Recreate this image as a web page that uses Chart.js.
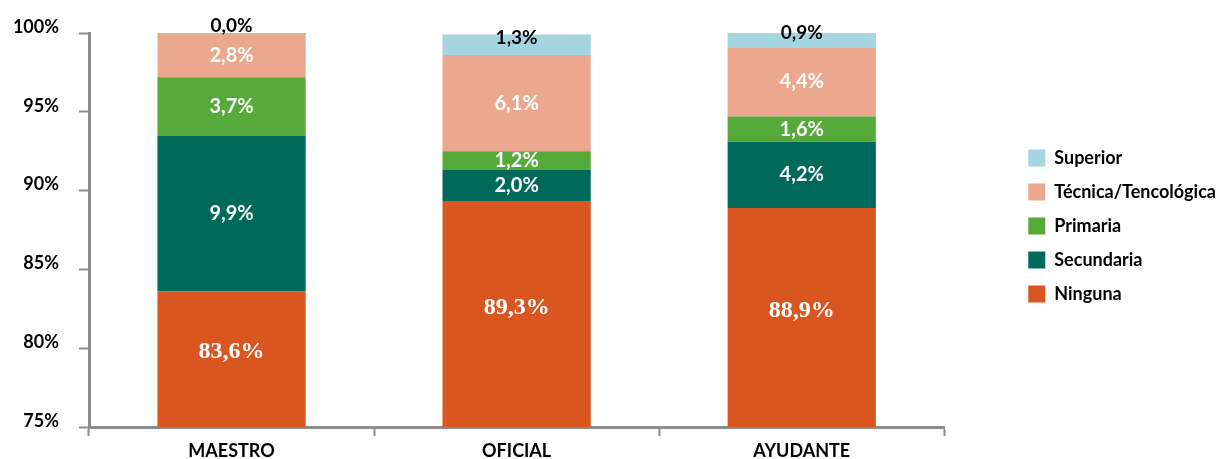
<!DOCTYPE html>
<html>
<head>
<meta charset="utf-8">
<script src="https://cdn.jsdelivr.net/npm/chart.js@4"></script>
<style>
  html, body { margin: 0; padding: 0; background: #fff; }
  #wrap { width: 1218px; height: 459px; }
</style>
</head>
<body>
<div id="wrap"><canvas id="nivelChart"></canvas></div>
<script>
const categories = ['MAESTRO', 'OFICIAL', 'AYUDANTE'];
const ninguna = [83.6, 89.3, 88.9];
const secundaria = [9.9, 2.0, 4.2];
const primaria = [3.7, 1.2, 1.6];
const tecnica = [2.8, 6.1, 4.4];
const superior = [0.0, 1.3, 0.9];
const yTicks = [75, 80, 85, 90, 95, 100];

const sansFont = 'Lato, "Open Sans", sans-serif';

// etiquetas dentro de cada segmento
const segmentLabels = {
    id: 'segmentLabels',
    afterDatasetsDraw(chart) {
        const ctx = chart.ctx;
        const area = chart.chartArea;
        chart.data.datasets.forEach((ds, i) => {
            const meta = chart.getDatasetMeta(i);
            meta.data.forEach((bar, j) => {
                const txt = ds.data[j].toFixed(1).replace('.', ',') + '%';
                const top = Math.max(bar.y, area.top);
                const bottom = Math.min(bar.base, area.bottom);
                const y = (top + bottom) / 2 + (ds.labelShift || 0);
                ctx.save();
                ctx.fillStyle = ds.labelColor;
                ctx.font = ds.labelFont;
                ctx.textAlign = 'center';
                ctx.textBaseline = 'middle';
                ctx.fillText(txt, bar.x, y);
                ctx.restore();
            });
        });
    }
};

// separa la leyenda del area del grafico
const legendShift = {
    id: 'legendShift',
    beforeInit(chart) {
        const fit = chart.legend.fit;
        chart.legend.fit = function () {
            fit.call(this);
            this.width += 60;
        };
    },
    afterLayout(chart) {
        const lg = chart.legend;
        lg.left += 68;
        lg.top -= 4;
        lg.bottom -= 4;
    }
};

const ctx = document.getElementById('nivelChart');
new Chart(ctx, {
    type: 'bar',
    data: {
        labels: categories,
        datasets: [
            { label: 'Ninguna', data: ninguna, backgroundColor: '#DA5621',
              labelColor: '#fff', labelFont: 'bold 24px "Liberation Serif", serif', labelShift: -7 },
            { label: 'Secundaria', data: secundaria, backgroundColor: '#006A5A',
              labelColor: '#fff', labelFont: 'bold 20px ' + sansFont },
            { label: 'Primaria', data: primaria, backgroundColor: '#56AA3A',
              labelColor: '#fff', labelFont: 'bold 20px ' + sansFont },
            { label: 'Técnica/Tencológica', data: tecnica, backgroundColor: '#EBA88E',
              labelColor: '#fff', labelFont: 'bold 20px ' + sansFont },
            { label: 'Superior', data: superior, backgroundColor: '#A6D5E2',
              labelColor: '#000', labelFont: 'bold 19px ' + sansFont, labelShift: -7 }
        ]
    },
    options: {
        responsive: true,
        maintainAspectRatio: false,
        animation: false,
        datasets: {
            bar: { categoryPercentage: 1, barPercentage: 0.52 }
        },
        layout: { padding: { top: 33, left: 12, right: 0, bottom: 0 } },
        plugins: {
            legend: {
                position: 'right',
                fullSize: false,
                reverse: true,
                labels: {
                    boxWidth: 17,
                    boxHeight: 17,
                    padding: 16,
                    color: '#000',
                    font: { family: sansFont, size: 18, weight: 'bold' }
                }
            },
            tooltip: { enabled: false }
        },
        scales: {
            x: {
                stacked: true,
                afterFit(axis) { axis.height = 32; },
                grid: {
                    offset: true,
                    drawOnChartArea: false,
                    drawTicks: true,
                    tickLength: 9,
                    tickWidth: 2,
                    color: '#8c8c8c'
                },
                border: { color: '#8c8c8c', width: 3 },
                ticks: {
                    color: '#000',
                    padding: 4,
                    font: { family: sansFont, size: 18, weight: 'bold' }
                }
            },
            y: {
                stacked: true,
                min: 75,
                max: 100,
                afterBuildTicks(axis) {
                    axis.ticks = yTicks.map(v => ({ value: v }));
                },
                afterFit(axis) { axis.width = 77; },
                grid: {
                    drawOnChartArea: false,
                    drawTicks: true,
                    tickLength: 10,
                    tickWidth: 2,
                    color: '#8c8c8c'
                },
                border: { color: '#8c8c8c', width: 3 },
                ticks: {
                    color: '#000',
                    padding: 20,
                    labelOffset: -6,
                    font: { family: sansFont, size: 18, weight: 'bold' },
                    callback: v => v + '%'
                }
            }
        }
    },
    plugins: [segmentLabels, legendShift]
});
</script>
</body>
</html>
